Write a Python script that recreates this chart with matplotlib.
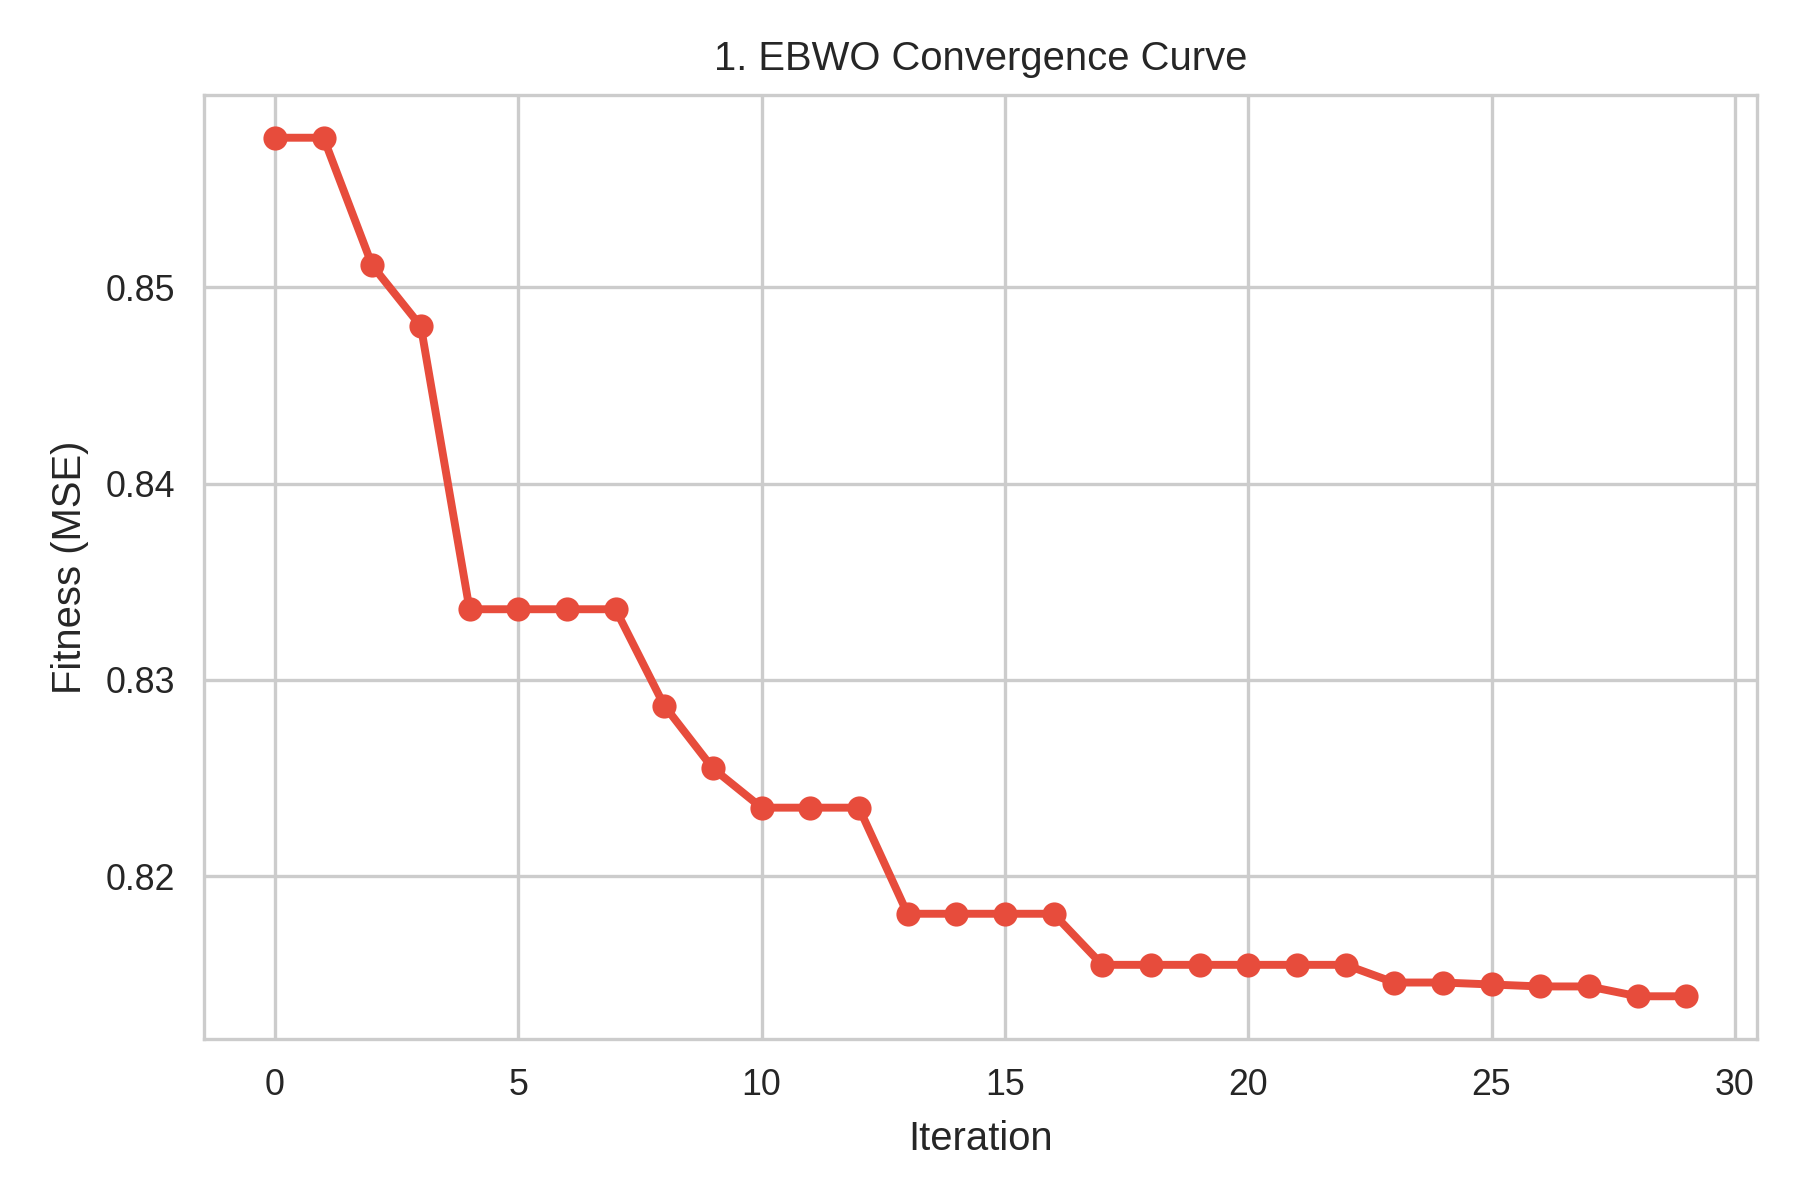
import numpy as np
import matplotlib
matplotlib.use("Agg")
import matplotlib.pyplot as plt
import seaborn as sns

iterations = np.arange(30)
fitness = [0.8576, 0.8576, 0.8511, 0.8480, 0.8336, 0.8336, 0.8336, 0.8336,
           0.8287, 0.8255, 0.8235, 0.8235, 0.8235, 0.8181, 0.8181, 0.8181,
           0.8181, 0.8155, 0.8155, 0.8155, 0.8155, 0.8155, 0.8155, 0.8146,
           0.8146, 0.8145, 0.8144, 0.8144, 0.8139, 0.8139]

sns.set_style("whitegrid")
plt.rcParams['font.family'] = ['Liberation Sans', 'DejaVu Sans']

fig, ax = plt.subplots(figsize=(6, 4), dpi=300)
ax.plot(iterations, fitness, color='#e74c3c', marker='o', linewidth=1.9, markersize=4.8)
ax.set_title("1. EBWO Convergence Curve", fontsize=9.6)
ax.set_xlabel("Iteration", fontsize=9.6)
ax.set_ylabel("Fitness (MSE)", fontsize=9.6)
ax.tick_params(labelsize=8.6)
fig.subplots_adjust(left=0.1135, right=0.976, top=0.921, bottom=0.134)
plt.savefig("out.png", dpi=300)
